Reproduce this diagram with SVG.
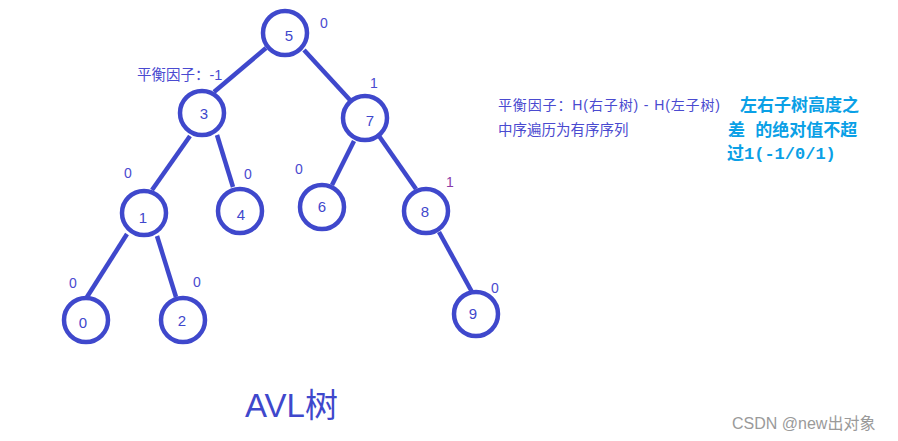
<svg xmlns="http://www.w3.org/2000/svg" width="898" height="441" viewBox="0 0 898 441">
<style>
.n circle{fill:none;stroke:#3f48cc;stroke-width:4.5}
.n text{font-family:"Liberation Sans","Noto Sans CJK SC",sans-serif;font-size:15px;fill:#3f48cc;text-anchor:middle}
.e line{stroke:#3f48cc;stroke-width:4.5;stroke-linecap:butt}
.bf{font-family:"Liberation Sans","Noto Sans CJK SC",sans-serif;font-size:14px;fill:#4a4ad0;text-anchor:middle}
.t{font-family:"Liberation Sans","Noto Sans CJK SC",sans-serif;fill:#4a4ad0}
.c{font-family:"Liberation Mono","Noto Sans CJK SC",monospace;font-size:17px;font-weight:bold;fill:#0aa0e6}
</style>
<rect width="898" height="441" fill="#fff"/>
<g class="e" id="edges">
<line x1="266" y1="48" x2="214" y2="92"/>
<line x1="304" y1="50" x2="350" y2="100"/>
<line x1="190" y1="136" x2="152" y2="190"/>
<line x1="217" y1="135" x2="233" y2="187"/>
<line x1="127" y1="234" x2="87" y2="297"/>
<line x1="157" y1="236" x2="176" y2="297"/>
<line x1="354" y1="141" x2="332" y2="185"/>
<line x1="379" y1="136" x2="416" y2="189"/>
<line x1="439" y1="232" x2="472" y2="292"/>
</g>
<g class="n" id="n5"><circle cx="285" cy="33" r="22"/><text x="289" y="41">5</text></g>
<g class="n" id="n3"><circle cx="202" cy="113" r="22"/><text x="204" y="119">3</text></g>
<g class="n" id="n7"><circle cx="365" cy="118" r="22"/><text x="370" y="126">7</text></g>
<g class="n" id="n1"><circle cx="144" cy="213" r="22"/><text x="143" y="223">1</text></g>
<g class="n" id="n4"><circle cx="240" cy="211" r="22"/><text x="241" y="220">4</text></g>
<g class="n" id="n6"><circle cx="322" cy="207" r="22"/><text x="322" y="212">6</text></g>
<g class="n" id="n8"><circle cx="426" cy="211" r="22"/><text x="425" y="217">8</text></g>
<g class="n" id="n0"><circle cx="86" cy="320" r="22"/><text x="83" y="328">0</text></g>
<g class="n" id="n2"><circle cx="183" cy="320" r="22"/><text x="182" y="326">2</text></g>
<g class="n" id="n9"><circle cx="476" cy="314" r="22"/><text x="473" y="319">9</text></g>
<g id="balance">
<text class="bf" x="324" y="28">0</text>
<text class="bf" x="374" y="88">1</text>
<text class="bf" x="128" y="178">0</text>
<text class="bf" x="248" y="179">0</text>
<text class="bf" x="299" y="174">0</text>
<text class="bf" x="450" y="187" style="fill:#8a3aa8">1</text>
<text class="bf" x="73" y="288">0</text>
<text class="bf" x="197" y="287">0</text>
<text class="bf" x="495" y="293">0</text>
</g>
<text class="t" x="137" y="80" font-size="14.5">平衡因子：-1</text>
<text class="t" x="498" y="110" font-size="14" textLength="222">平衡因子：H(右子树) - H(左子树)</text>
<text class="t" x="498" y="135" font-size="14.5">中序遍历为有序序列</text>
<text class="c" x="740" y="111">左右子树高度之</text>
<text class="c" x="728" y="136">差 的绝对值不超</text>
<text class="c" x="727" y="159">过1(-1/0/1)</text>
<text class="t" x="245" y="417" font-size="33" style="fill:#3f48cc">AVL树</text>
<text x="732" y="429" font-family="Liberation Sans,Noto Sans CJK SC,sans-serif" font-size="16" fill="#9a9a9a">CSDN @new出对象</text>
</svg>
